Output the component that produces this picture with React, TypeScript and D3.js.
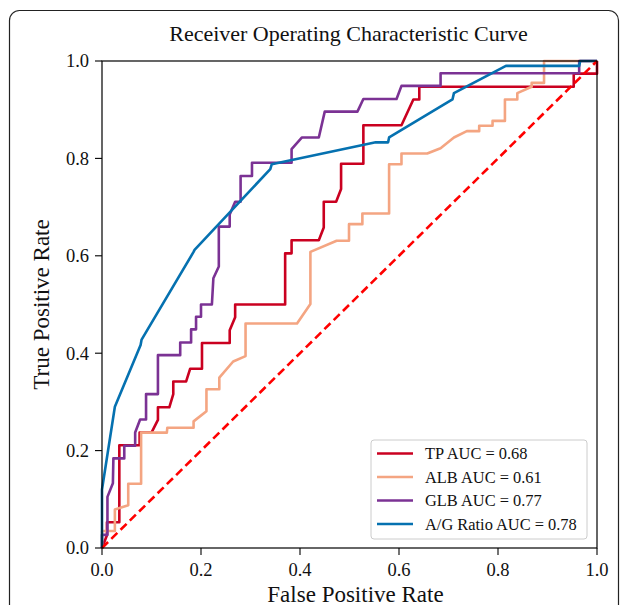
import { scaleLinear, line as d3Line } from "d3";

type Pt = [number, number];

const tpPoints: Pt[] = [
  [0, 0], [0.01, 0.026], [0.01, 0.053], [0.035, 0.053], [0.035, 0.184], [0.035, 0.211],
  [0.076, 0.211], [0.076, 0.237], [0.1, 0.237], [0.113, 0.263], [0.113, 0.289], [0.136, 0.289],
  [0.144, 0.316], [0.144, 0.342], [0.17, 0.342], [0.178, 0.368], [0.202, 0.368], [0.202, 0.421],
  [0.258, 0.421], [0.258, 0.447], [0.269, 0.474], [0.269, 0.5], [0.37, 0.5], [0.37, 0.605],
  [0.383, 0.605], [0.383, 0.632], [0.438, 0.632], [0.448, 0.658], [0.448, 0.711], [0.473, 0.711],
  [0.483, 0.737], [0.483, 0.789], [0.528, 0.789], [0.528, 0.868], [0.605, 0.868], [0.629, 0.921],
  [0.641, 0.921], [0.641, 0.947], [0.953, 0.947], [0.953, 0.974], [1, 0.974], [1, 1],
];

const albPoints: Pt[] = [
  [0, 0], [0, 0.035], [0.026, 0.035], [0.026, 0.079], [0.053, 0.088], [0.053, 0.132],
  [0.079, 0.132], [0.079, 0.237], [0.131, 0.237], [0.132, 0.247], [0.185, 0.247], [0.185, 0.26],
  [0.211, 0.281], [0.211, 0.326], [0.237, 0.326], [0.237, 0.35], [0.265, 0.383], [0.29, 0.394],
  [0.29, 0.461], [0.394, 0.461], [0.421, 0.501], [0.421, 0.608], [0.474, 0.631], [0.499, 0.631],
  [0.499, 0.665], [0.526, 0.665], [0.526, 0.687], [0.58, 0.687], [0.58, 0.788], [0.605, 0.788],
  [0.605, 0.81], [0.657, 0.81], [0.684, 0.821], [0.711, 0.843], [0.737, 0.856], [0.762, 0.856],
  [0.762, 0.867], [0.789, 0.867], [0.789, 0.877], [0.814, 0.877], [0.814, 0.921], [0.839, 0.921],
  [0.839, 0.934], [0.868, 0.947], [0.868, 0.955], [0.893, 0.955], [0.893, 1], [1, 1],
];

const glbPoints: Pt[] = [
  [0, 0], [0, 0.027], [0.011, 0.027], [0.011, 0.105], [0.022, 0.133], [0.023, 0.184],
  [0.045, 0.184], [0.045, 0.21], [0.067, 0.21], [0.067, 0.237], [0.077, 0.264], [0.089, 0.264],
  [0.089, 0.316], [0.113, 0.316], [0.113, 0.396], [0.158, 0.396], [0.158, 0.422], [0.18, 0.422],
  [0.18, 0.449], [0.19, 0.449], [0.19, 0.475], [0.2, 0.475], [0.2, 0.5], [0.222, 0.5],
  [0.225, 0.554], [0.236, 0.578], [0.236, 0.66], [0.258, 0.66], [0.258, 0.685], [0.269, 0.711],
  [0.28, 0.711], [0.28, 0.764], [0.303, 0.764], [0.303, 0.791], [0.383, 0.791], [0.383, 0.819],
  [0.404, 0.843], [0.438, 0.843], [0.45, 0.896], [0.516, 0.896], [0.528, 0.922], [0.595, 0.922],
  [0.605, 0.949], [0.684, 0.949], [0.684, 0.975], [0.964, 0.975], [0.964, 1], [1, 1],
];

const agPoints: Pt[] = [
  [0, 0], [0, 0.12], [0.026, 0.29], [0.078, 0.417], [0.08, 0.428], [0.185, 0.608],
  [0.187, 0.612], [0.34, 0.778], [0.343, 0.788], [0.553, 0.833], [0.578, 0.833], [0.58, 0.843],
  [0.708, 0.921], [0.711, 0.934], [0.816, 0.99], [0.964, 0.99], [0.966, 1], [1, 1],
];

const seriesNames = ["TP AUC = 0.68", "ALB AUC = 0.61", "GLB AUC = 0.77", "A/G Ratio AUC = 0.78"];
const seriesColors = ["#ca0020", "#f4a582", "#7b3294", "#0571b0"];
const seriesData = [tpPoints, albPoints, glbPoints, agPoints];
const ticks = [0, 0.2, 0.4, 0.6, 0.8, 1.0];

const FONT = "'Liberation Serif', 'Times New Roman', serif";

export default function App() {
  const margin = { left: 102, top: 61, right: 30, bottom: 57 };
  const W = 627;
  const H = 605;
  const plotW = W - margin.left - margin.right; // ~495
  const plotH = H - margin.top - margin.bottom; // ~487

  const x = scaleLinear().domain([0, 1]).range([0, plotW]);
  const y = scaleLinear().domain([0, 1]).range([plotH, 0]);

  const lineGen = d3Line<Pt>()
    .x((d) => x(d[0]))
    .y((d) => y(d[1]));

  const legX = 371 - margin.left;
  const legY = 440 - margin.top;

  return (
    <svg
      width={W}
      height={H}
      style={{ position: "absolute", left: 0, top: 0, background: "#fff" }}
      fontFamily={FONT}
    >
      <rect x={9.5} y={10.5} width={609} height={640} rx={10} fill="none" stroke="#222" strokeWidth={1.2} />
      <text x={margin.left + plotW / 2 - 1} y={41} textAnchor="middle" fontSize={22} fill="#111">
        Receiver Operating Characteristic Curve
      </text>

      <g transform={`translate(${margin.left},${margin.top})`}>
        <defs>
          <clipPath id="plotClip">
            <rect x={-2} y={-2} width={plotW + 4} height={plotH + 4} />
          </clipPath>
        </defs>

        <g clipPath="url(#plotClip)">
          {seriesData.map((pts, i) => (
            <path
              key={`s-${i}`}
              d={lineGen(pts) ?? ""}
              fill="none"
              stroke={seriesColors[i]}
              strokeWidth={2.6}
              strokeLinejoin="round"
            />
          ))}
          <path
            d={lineGen([[0, 0], [1, 1]]) ?? ""}
            fill="none"
            stroke="#ff0000"
            strokeWidth={2.6}
            strokeDasharray="8.5,4.5"
          />
        </g>

        <rect x={0} y={0} width={plotW} height={plotH} fill="none" stroke="#000" strokeWidth={1.2} />

        {ticks.map((t, i) => (
          <g key={`xt-${i}`} transform={`translate(${x(t)},${plotH})`}>
            <line y1={0} y2={7} stroke="#000" strokeWidth={1.1} />
            <text y={28} textAnchor="middle" fontSize={18.5} fill="#111">
              {t.toFixed(1)}
            </text>
          </g>
        ))}
        {ticks.map((t, i) => (
          <g key={`yt-${i}`} transform={`translate(0,${y(t)})`}>
            <line x1={-7} x2={0} stroke="#000" strokeWidth={1.1} />
            <text x={-13} dy="0.35em" textAnchor="end" fontSize={18.5} fill="#111">
              {t.toFixed(1)}
            </text>
          </g>
        ))}

        <text x={plotW / 2 + 6} y={plotH + 54} textAnchor="middle" fontSize={23} fill="#111">
          False Positive Rate
        </text>
        <text
          transform={`translate(${-53},${plotH / 2}) rotate(-90)`}
          textAnchor="middle"
          fontSize={23}
          fill="#111"
        >
          True Positive Rate
        </text>

        <g transform={`translate(${legX},${legY})`}>
          <rect x={0} y={0} width={216} height={99} rx={3} fill="#fff" fillOpacity={0.8} stroke="#ccc" strokeWidth={1} />
          {seriesNames.map((name, i) => (
            <g key={`leg-${i}`} transform={`translate(0,${13.5 + i * 23.5})`}>
              <line x1={6} x2={42} stroke={seriesColors[i]} strokeWidth={2.6} />
              <text x={54} dy="0.35em" fontSize={16.4} fill="#111">
                {name}
              </text>
            </g>
          ))}
        </g>
      </g>
    </svg>
  );
}
